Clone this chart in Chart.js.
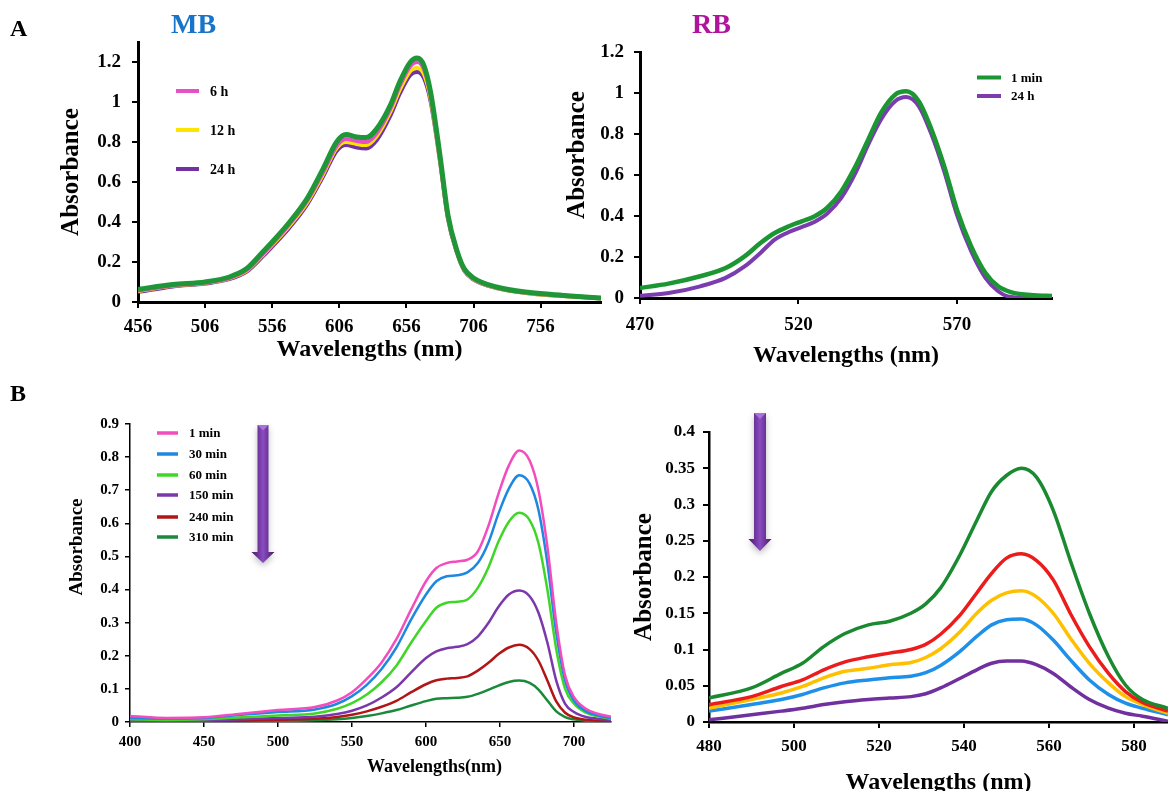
<!DOCTYPE html>
<html>
<head>
<meta charset="utf-8">
<title>MB / RB absorbance spectra</title>
<script src="https://cdn.jsdelivr.net/npm/chart.js@4.4.1/dist/chart.umd.min.js"></script>
<style>
    html, body { margin: 0; padding: 0; background: #fff; overflow: hidden; }
    #page { position: relative; width: 1168px; height: 791px; overflow: hidden; }
    canvas { position: absolute; }
    .lbl {
        position: absolute; line-height: 1; white-space: nowrap; font-weight: bold;
        font-family: "Liberation Serif", "Times New Roman", serif;
    }
</style>
</head>
<body>
<div id="page">
    <canvas id="mbChart" width="620" height="375" style="left:0;top:0;"></canvas>
    <canvas id="rbChart" width="608" height="380" style="left:560px;top:0;"></canvas>
    <canvas id="mbKinChart" width="620" height="411" style="left:0;top:380px;"></canvas>
    <canvas id="rbKinChart" width="568" height="425" style="left:600px;top:380px;"></canvas>

    <div class="lbl" style="left:10px;top:16px;font-size:24px;">A</div>
    <div class="lbl" style="left:10px;top:381px;font-size:24px;">B</div>
    <div class="lbl" style="left:171px;top:10px;font-size:28px;color:#1874c8;">MB</div>
    <div class="lbl" style="left:692px;top:10px;font-size:28px;color:#b0149c;">RB</div>
</div>

<script>
// ===== Datos: panel A, MB (estabilidad) =====
const mbWavelengths = [456, 482, 506, 524, 537, 549, 556, 569, 582, 594, 604, 611, 619, 626, 634,
    644, 651, 659, 664, 669, 674, 681, 687, 694, 699, 706, 723, 748, 773, 801];
const mb1min = [0.063, 0.087, 0.1, 0.125, 0.167, 0.25, 0.3, 0.4, 0.517, 0.667, 0.8, 0.837, 0.825, 0.822, 0.867,
    0.983, 1.1, 1.2, 1.22, 1.183, 1.05, 0.733, 0.433, 0.25, 0.167, 0.12, 0.075, 0.047, 0.033, 0.02];
const mb6h = [0.058, 0.083, 0.097, 0.12, 0.16, 0.24, 0.29, 0.39, 0.505, 0.65, 0.78, 0.815, 0.805, 0.8, 0.845,
    0.965, 1.08, 1.18, 1.2, 1.165, 1.035, 0.72, 0.425, 0.245, 0.163, 0.117, 0.073, 0.045, 0.032, 0.019];
const mb12h = [0.055, 0.081, 0.095, 0.118, 0.157, 0.235, 0.285, 0.383, 0.497, 0.64, 0.77, 0.8, 0.79, 0.785, 0.83,
    0.95, 1.06, 1.155, 1.17, 1.14, 1.02, 0.71, 0.42, 0.242, 0.16, 0.114, 0.071, 0.043, 0.03, 0.018];
const mb24h = [0.05, 0.078, 0.092, 0.114, 0.152, 0.228, 0.277, 0.373, 0.487, 0.628, 0.755, 0.785, 0.772, 0.767, 0.81,
    0.93, 1.04, 1.135, 1.15, 1.12, 1.005, 0.705, 0.415, 0.24, 0.158, 0.112, 0.07, 0.043, 0.03, 0.018];
const mbXTicks = [456, 506, 556, 606, 656, 706, 756];
const mbYTicks = [0, 0.2, 0.4, 0.6, 0.8, 1, 1.2];

// ===== Datos: panel A, RB =====
const rbWavelengths = [470, 479, 489, 497, 503, 508, 512.5, 517, 521, 525, 529, 533.5, 538, 542, 546,
    550.5, 554, 558, 562, 566, 570, 574.5, 579, 583, 587, 594.5, 600];
const rb1min = [0.049, 0.07, 0.106, 0.146, 0.203, 0.268, 0.317, 0.35, 0.374, 0.398, 0.439, 0.52, 0.642, 0.772, 0.902,
    0.992, 1.008, 0.959, 0.821, 0.642, 0.431, 0.252, 0.122, 0.057, 0.029, 0.013, 0.01];
const rb24h = [0.011, 0.024, 0.057, 0.098, 0.154, 0.22, 0.285, 0.322, 0.346, 0.371, 0.411, 0.488, 0.61, 0.748, 0.87,
    0.96, 0.98, 0.935, 0.797, 0.618, 0.407, 0.228, 0.098, 0.033, 0.005, 0, 0];
const rbXTicks = [470, 520, 570];
const rbYTicks = [0, 0.2, 0.4, 0.6, 0.8, 1, 1.2];

// ===== Datos: panel B, MB (cinética) =====
const kMbWavelengths = [400, 425, 450, 475, 500, 525, 540, 550, 560, 570, 580, 590, 600, 607, 614, 621,
    628, 635, 642, 649, 656, 663, 670, 676, 682, 688, 694, 700, 708, 716, 725];
const kMb1 = [0.018, 0.012, 0.014, 0.025, 0.036, 0.045, 0.065, 0.09, 0.13, 0.18, 0.25, 0.34, 0.425, 0.465, 0.48, 0.485,
    0.49, 0.515, 0.59, 0.69, 0.775, 0.82, 0.79, 0.7, 0.53, 0.3, 0.14, 0.075, 0.04, 0.025, 0.016];
const kMb30 = [0.012, 0.01, 0.012, 0.022, 0.03, 0.038, 0.055, 0.078, 0.112, 0.16, 0.225, 0.31, 0.385, 0.425, 0.44, 0.443,
    0.452, 0.48, 0.54, 0.63, 0.705, 0.745, 0.72, 0.64, 0.48, 0.27, 0.125, 0.065, 0.033, 0.02, 0.012];
const kMb60 = [0.008, 0.006, 0.008, 0.014, 0.02, 0.026, 0.04, 0.057, 0.083, 0.12, 0.17, 0.24, 0.305, 0.345, 0.36, 0.363,
    0.37, 0.405, 0.465, 0.545, 0.605, 0.632, 0.61, 0.54, 0.4, 0.22, 0.1, 0.055, 0.028, 0.017, 0.01];
const kMb150 = [0.004, 0.003, 0.004, 0.008, 0.012, 0.016, 0.024, 0.034, 0.05, 0.074, 0.105, 0.15, 0.193, 0.213, 0.223, 0.227,
    0.235, 0.258, 0.298, 0.348, 0.385, 0.397, 0.38, 0.33, 0.24, 0.125, 0.055, 0.03, 0.015, 0.01, 0.006];
const kMb240 = [0.002, 0.002, 0.002, 0.004, 0.007, 0.01, 0.015, 0.022, 0.032, 0.046, 0.064, 0.09, 0.114, 0.126, 0.131, 0.133,
    0.138, 0.155, 0.178, 0.205, 0.225, 0.233, 0.22, 0.185, 0.125, 0.062, 0.028, 0.014, 0.007, 0.004, 0.003];
const kMb310 = [0.001, 0.001, 0.001, 0.002, 0.003, 0.005, 0.008, 0.012, 0.018, 0.026, 0.036, 0.05, 0.063, 0.07, 0.072, 0.073,
    0.076, 0.085, 0.097, 0.11, 0.121, 0.125, 0.118, 0.098, 0.065, 0.032, 0.015, 0.008, 0.004, 0.003, 0.002];
const kMbXTicks = [400, 450, 500, 550, 600, 650, 700];
const kMbYTicks = [0, 0.1, 0.2, 0.3, 0.4, 0.5, 0.6, 0.7, 0.8, 0.9];

// ===== Datos: panel B, RB (cinética) =====
const kRbWavelengths = [480, 490, 497, 502, 507, 512, 517.5, 522.5, 527.5, 531, 534.5, 539, 543, 546.5, 550,
    553.5, 557, 561, 565, 569.5, 574, 578, 582, 588];
const kRbGreen = [0.033, 0.047, 0.067, 0.081, 0.104, 0.122, 0.134, 0.139, 0.15, 0.163, 0.185, 0.23, 0.278, 0.318, 0.34,
    0.35, 0.338, 0.292, 0.223, 0.15, 0.09, 0.051, 0.031, 0.019];
const kRbRed = [0.024, 0.035, 0.049, 0.058, 0.072, 0.083, 0.09, 0.095, 0.1, 0.107, 0.121, 0.147, 0.178, 0.205, 0.226,
    0.232, 0.223, 0.196, 0.15, 0.104, 0.067, 0.042, 0.027, 0.015];
const kRbYellow = [0.019, 0.031, 0.04, 0.049, 0.061, 0.07, 0.074, 0.079, 0.082, 0.089, 0.101, 0.124, 0.15, 0.168, 0.178,
    0.181, 0.173, 0.15, 0.116, 0.081, 0.054, 0.035, 0.024, 0.012];
const kRbBlue = [0.015, 0.024, 0.031, 0.038, 0.047, 0.054, 0.058, 0.061, 0.063, 0.068, 0.078, 0.097, 0.118, 0.134, 0.141,
    0.142, 0.134, 0.113, 0.086, 0.058, 0.038, 0.026, 0.019, 0.01];
const kRbPurple = [0.003, 0.01, 0.015, 0.019, 0.024, 0.028, 0.031, 0.033, 0.035, 0.039, 0.047, 0.06, 0.072, 0.081, 0.084,
    0.084, 0.079, 0.067, 0.049, 0.031, 0.019, 0.012, 0.008, 0.001];
const kRbXTicks = [480, 500, 520, 540, 560, 580];
const kRbYTicks = [0, 0.05, 0.1, 0.15, 0.2, 0.25, 0.3, 0.35, 0.4];

const FONT = '"Liberation Serif", "Times New Roman", serif';

// pares {x, y} para el eje lineal
function serie(xs, ys) {
    return xs.map((x, i) => ({x: x, y: ys[i]}));
}

function linea(label, xs, ys, color, width) {
    return {
        label: label,
        data: serie(xs, ys),
        borderColor: color,
        backgroundColor: color,
        borderWidth: width,
        pointRadius: 0,
        cubicInterpolationMode: 'monotone',
        fill: false
    };
}

function eje(o) {
    const horizontal = o.pos === 'bottom';
    return {
        type: 'linear',
        position: o.pos,
        min: o.min,
        max: o.max,
        afterBuildTicks: s => { s.ticks = o.ticks.map(v => ({value: v})); },
        afterFit: s => {
            if (horizontal) s.height = o.size; else s.width = o.size;
        },
        ticks: {
            autoSkip: false, maxRotation: 0, padding: o.pad, color: '#000',
            font: {family: FONT, weight: 'bold', size: o.font},
            callback: v => String(v)
        },
        grid: {drawOnChartArea: false, tickLength: o.tl, color: '#000', lineWidth: o.tw},
        border: {color: '#000', width: o.bw},
        title: o.title ? {
            display: true, text: o.title, color: '#000',
            font: {family: FONT, weight: 'bold', size: o.titleSize},
            padding: horizontal ? {top: 0, bottom: o.titlePad} : {top: o.titlePad, bottom: 0}
        } : {display: false}
    };
}

// flecha morada, leyenda interna y textos sueltos
function flecha(ctx, a) {
    const s = a.shaft / 2, h = a.head / 2;
    ctx.save();
    const g = ctx.createLinearGradient(a.x - h, 0, a.x + h, 0);
    g.addColorStop(0, '#4a1868');
    g.addColorStop(0.5, '#8a4cc2');
    g.addColorStop(1, '#4a1868');
    ctx.shadowColor = 'rgba(0,0,0,0.25)';
    ctx.shadowBlur = 6;
    ctx.shadowOffsetY = 3;
    ctx.beginPath();
    ctx.moveTo(a.x - s, a.top);
    ctx.lineTo(a.x + s, a.top);
    ctx.lineTo(a.x + s, a.neck);
    ctx.lineTo(a.x + h, a.neck);
    ctx.lineTo(a.x, a.tip);
    ctx.lineTo(a.x - h, a.neck);
    ctx.lineTo(a.x - s, a.neck);
    ctx.closePath();
    ctx.fillStyle = g;
    ctx.fill();
    ctx.shadowColor = 'transparent';
    // bisel superior
    ctx.beginPath();
    ctx.moveTo(a.x - s, a.top);
    ctx.lineTo(a.x + s, a.top);
    ctx.lineTo(a.x, a.top + s);
    ctx.closePath();
    ctx.fillStyle = '#a872d6';
    ctx.fill();
    ctx.restore();
}

const extrasPlugin = {
    id: 'extras',
    afterDatasetsDraw(chart, args, opts) {
        const ctx = chart.ctx;
        if (opts.arrow) flecha(ctx, opts.arrow);

        if (opts.legend) {
            const L = opts.legend;
            ctx.save();
            ctx.font = 'bold ' + L.font + 'px ' + FONT;
            ctx.textBaseline = 'middle';
            ctx.fillStyle = '#000';
            L.items.forEach((idx, i) => {
                const ds = chart.data.datasets[idx];
                ctx.strokeStyle = ds.borderColor;
                ctx.lineWidth = L.lw;
                ctx.beginPath();
                ctx.moveTo(L.x1, L.ys[i]);
                ctx.lineTo(L.x2, L.ys[i]);
                ctx.stroke();
                ctx.fillText(ds.label, L.textX, L.ys[i] + 1);
            });
            ctx.restore();
        }

        (opts.texts || []).forEach(t => {
            ctx.save();
            ctx.font = 'bold ' + t.size + 'px ' + FONT;
            ctx.fillStyle = '#000';
            ctx.textAlign = 'center';
            ctx.textBaseline = 'middle';
            ctx.translate(t.x, t.y);
            if (t.rotate) ctx.rotate(-Math.PI / 2);
            ctx.fillText(t.text, 0, 0);
            ctx.restore();
        });
    }
};

function grafico(id, datasets, padding, xOpts, yOpts, extras) {
    return new Chart(document.getElementById(id), {
        type: 'line',
        data: {datasets: datasets},
        options: {
            responsive: false,
            animation: false,
            layout: {padding: padding},
            plugins: {legend: {display: false}, tooltip: {enabled: false}, extras: extras},
            scales: {x: eje(xOpts), y: eje(yOpts)}
        },
        plugins: [extrasPlugin]
    });
}

// ==== A: MB ====
grafico('mbChart', [
    linea('1 min', mbWavelengths, mb1min, '#1f9638', 5),
    linea('6 h', mbWavelengths, mb6h, '#e650c6', 4),
    linea('12 h', mbWavelengths, mb12h, '#ffe400', 4),
    linea('24 h', mbWavelengths, mb24h, '#7232a2', 4)
], {top: 42, right: 19, left: 0, bottom: 0},
{pos: 'bottom', min: 456, max: 801, ticks: mbXTicks, size: 73, font: 19, tl: 6, pad: 8, tw: 2, bw: 3,
    title: 'Wavelengths (nm)', titleSize: 24, titlePad: 10.6},
{pos: 'left', min: 0, max: 1.3, ticks: mbYTicks, size: 138, font: 19, tl: 6, pad: 11, tw: 2, bw: 3,
    title: 'Absorbance', titleSize: 25, titlePad: 57},
{legend: {items: [1, 2, 3], x1: 176, x2: 199, textX: 210, ys: [91, 130, 169], font: 14, lw: 4}});

// ==== A: RB ====
grafico('rbChart', [
    linea('1 min', rbWavelengths, rb1min, '#1c9632', 4.5),
    linea('24 h', rbWavelengths, rb24h, '#7a3cae', 4)
], {top: 52, right: 116, left: 0, bottom: 0},
{pos: 'bottom', min: 470, max: 600, ticks: rbXTicks, size: 82, font: 19, tl: 6, pad: 10, tw: 2, bw: 3,
    title: 'Wavelengths (nm)', titleSize: 24, titlePad: 9.6},
{pos: 'left', min: 0, max: 1.2, ticks: rbYTicks, size: 80, font: 19, tl: 6, pad: 10, tw: 2, bw: 3},
{
    legend: {items: [0, 1], x1: 417, x2: 441, textX: 451, ys: [77.5, 96], font: 13, lw: 4},
    texts: [{text: 'Absorbance', x: 18, y: 155, size: 25, rotate: true}]
});

// ==== B: MB cinética ====
grafico('mbKinChart', [
    linea('1 min', kMbWavelengths, kMb1, '#f24dbf', 2.5),
    linea('30 min', kMbWavelengths, kMb30, '#1e88e0', 2.5),
    linea('60 min', kMbWavelengths, kMb60, '#3fd628', 2.5),
    linea('150 min', kMbWavelengths, kMb150, '#7a38aa', 2.5),
    linea('240 min', kMbWavelengths, kMb240, '#b01616', 2.5),
    linea('310 min', kMbWavelengths, kMb310, '#1a8a3a', 2.5)
], {top: 44, right: 9, left: 0, bottom: 0},
{pos: 'bottom', min: 400, max: 725, ticks: kMbXTicks, size: 69, font: 15, tl: 5, pad: 6, tw: 1.5, bw: 1.5},
{pos: 'left', min: 0, max: 0.9, ticks: kMbYTicks, size: 130, font: 15, tl: 5, pad: 6, tw: 1.5, bw: 1.5},
{
    legend: {items: [0, 1, 2, 3, 4, 5], x1: 157, x2: 178, textX: 189, ys: [53, 74, 95, 115, 137, 157], font: 13, lw: 3.5},
    arrow: {x: 263, top: 45, neck: 172, tip: 183, shaft: 11, head: 23},
    texts: [
        {text: 'Absorbance', x: 77, y: 167, size: 19, rotate: true},
        {text: 'Wavelengths(nm)', x: 434.5, y: 387, size: 18}
    ]
});

// ==== B: RB cinética ====
grafico('rbKinChart', [
    linea('1 min', kRbWavelengths, kRbGreen, '#1a8a30', 3.5),
    linea('30 min', kRbWavelengths, kRbRed, '#ec1c1c', 3.5),
    linea('60 min', kRbWavelengths, kRbYellow, '#ffc000', 3.5),
    linea('150 min', kRbWavelengths, kRbBlue, '#1e90e8', 3.5),
    linea('240 min', kRbWavelengths, kRbPurple, '#7030a0', 3.5)
], {top: 52, right: 0, left: 0, bottom: 0},
{pos: 'bottom', min: 480, max: 588, ticks: kRbXTicks, size: 83, font: 17, tl: 6, pad: 8, tw: 2, bw: 2.5,
    title: 'Wavelengths (nm)', titleSize: 24, titlePad: 7.6},
{pos: 'left', min: 0, max: 0.4, ticks: kRbYTicks, size: 109, font: 17, tl: 6, pad: 8, tw: 2, bw: 2.5,
    title: 'Absorbance', titleSize: 25, titlePad: 30},
{arrow: {x: 160, top: 33, neck: 159, tip: 171, shaft: 12, head: 23}});
</script>
</body>
</html>
